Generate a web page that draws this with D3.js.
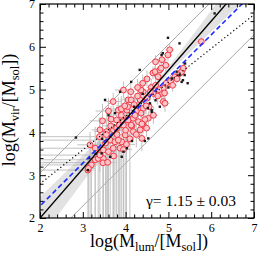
<!DOCTYPE html>
<html><head><meta charset="utf-8">
<script src="https://cdn.jsdelivr.net/npm/d3@7"></script>
<style>body{margin:0;background:#fff}svg{display:block}</style>
</head><body>
<svg id="c" width="258" height="254"></svg>
<script>
// ---- data ----
const xTicks = [2, 3, 4, 5, 6, 7];
const yTicks = [2, 3, 4, 5, 6, 7];
const fitSlope = 1.15, fitIntercept = -0.30;        // black solid line
const oneToOneOffset = 0.28;                          // blue dashed: y = x + offset
const scatterOffsets = [1.05, -0.72];                 // thin gray lines: y = x + offset
const dottedSlope = 0.79, dottedIntercept = 1.22;     // dotted line
const bandX    = [2.0, 2.5, 3.0, 3.5, 4.0, 4.5, 5.0, 5.5, 6.0, 6.5, 7.0];
const bandHalf = [0.49,0.40,0.31,0.22,0.13,0.06,0.08,0.16,0.25,0.34,0.43];
// red circles: [x, y, xErrLow, xErrHigh, yErrLow, yErrHigh]
const redPoints = [
 [3.12,3.12,1.2,0.15,1.5,0.3],[3.20,3.24,1.3,0.15,1.5,0.3],[3.13,3.16,0.15,0.15,1.5,0.3],
 [3.29,3.36,1.4,0.2,1.5,0.4],[3.36,3.39,0.2,0.2,1.5,0.4],[3.48,3.39,0.2,0.2,1.6,0.4],
 [3.40,3.47,1.5,0.2,0.4,0.3],[3.47,3.29,1.5,0.2,1.5,0.3],[3.17,3.71,0.3,0.2,1.8,0.3],
 [3.29,3.63,1.4,0.2,1.7,0.5],[3.48,3.59,0.2,0.2,1.7,0.5],[3.40,4.06,0.2,0.2,2.1,0.3],
 [3.39,3.90,1.4,0.2,0.3,0.3],[3.46,4.27,0.3,0.3,0.4,0.4],[3.56,4.02,0.3,0.2,2.1,0.5],
 [3.64,3.82,1.6,0.2,1.9,0.4],[3.71,3.63,0.2,0.2,1.7,0.3],[3.75,3.78,0.2,0.2,1.8,0.3],
 [3.87,3.63,0.2,0.2,1.7,0.3],[3.91,3.78,0.2,0.2,1.8,0.3],[3.99,3.94,0.2,0.2,2.0,0.3],
 [3.71,4.06,0.2,0.2,2.1,0.4],[3.79,4.10,0.2,0.2,2.1,0.3],[3.85,4.17,0.2,0.2,2.2,0.3],
 [3.95,4.25,0.2,0.2,0.3,0.3],[3.66,4.31,0.3,0.3,0.3,0.3],[4.05,4.33,0.2,0.2,0.2,0.2],
 [3.83,3.82,0.2,0.2,1.9,0.3],[3.95,4.17,0.2,0.2,2.2,0.3],[3.71,4.72,0.2,0.2,0.2,0.2],
 [3.60,4.50,0.3,0.3,0.3,0.3],[3.83,4.52,0.2,0.2,0.3,0.3],[3.79,4.29,0.2,0.2,0.3,0.3],
 [3.95,4.99,0.2,0.2,0.2,0.2],[4.03,4.52,0.2,0.2,0.2,0.2],[4.06,4.29,0.2,0.2,0.3,0.3],
 [4.06,4.76,0.2,0.2,0.2,0.2],[4.18,4.33,0.1,0.1,0.2,0.2],[4.30,4.25,0.1,0.1,0.2,0.2],
 [4.41,4.17,0.1,0.1,0.2,0.2],[4.53,4.33,0.1,0.1,0.15,0.15],[4.18,4.02,0.1,0.1,0.2,0.2],
 [4.34,4.06,0.1,0.1,0.2,0.2],[4.49,4.10,0.1,0.1,0.2,0.2],[4.38,3.86,0.1,0.1,0.3,0.3],
 [4.34,4.76,0.1,0.1,0.2,0.2],[4.41,4.56,0.1,0.1,0.2,0.2],[4.41,4.95,0.1,0.1,0.2,0.2],
 [4.65,4.91,0.1,0.1,0.15,0.15],[4.88,4.72,0.1,0.1,0.15,0.15],[4.13,4.76,0.1,0.1,0.2,0.2],
 [4.36,4.99,0.1,0.1,0.2,0.2],[4.36,4.45,0.1,0.1,0.2,0.2],[4.64,5.39,0.1,0.1,0.15,0.15],
 [4.69,5.42,0.1,0.1,0.15,0.15],[4.76,5.30,0.1,0.1,0.15,0.15],[4.80,5.46,0.1,0.1,0.15,0.15],
 [4.83,5.50,0.1,0.1,0.15,0.15],[4.94,5.57,0.1,0.1,0.15,0.15],[4.99,5.81,0.1,0.1,0.15,0.15],
 [5.03,5.93,0.1,0.1,0.15,0.15],[4.88,5.03,0.1,0.1,0.15,0.15],[4.84,4.91,0.1,0.1,0.15,0.15],
 [4.91,4.92,0.1,0.1,0.2,0.2],[5.15,5.30,0.1,0.1,0.1,0.1],[5.27,5.38,0.1,0.1,0.1,0.1],
 [5.31,5.42,0.1,0.1,0.1,0.1],[4.92,4.68,0.1,0.1,0.2,0.2],[5.77,6.12,0.1,0.1,0.1,0.1],
 [3.60,3.55,0.2,0.2,1.6,0.3],[3.53,3.75,0.2,0.2,1.8,0.3],[3.95,3.60,0.2,0.2,1.7,0.3],
 [4.10,3.85,0.1,0.1,1.9,0.3],[4.25,4.50,0.1,0.1,0.2,0.2],[4.20,4.65,0.1,0.1,0.2,0.2],
 [4.50,4.80,0.1,0.1,0.2,0.2],[4.55,4.60,0.1,0.1,0.2,0.2],[4.60,5.05,0.1,0.1,0.2,0.2],
 [4.70,5.10,0.1,0.1,0.2,0.2],[4.75,4.85,0.1,0.1,0.2,0.2],[4.95,5.15,0.1,0.1,0.15,0.15],
 [5.05,5.20,0.1,0.1,0.15,0.15],[5.10,5.10,0.1,0.1,0.15,0.15],[4.65,4.40,0.1,0.1,0.2,0.2],
 [4.45,4.30,0.1,0.1,0.2,0.2],[4.28,4.85,0.1,0.1,0.2,0.2],[3.90,4.40,0.2,0.2,0.3,0.3],
 [3.65,4.15,0.2,0.2,0.3,0.3],[3.55,3.95,0.2,0.2,0.3,0.3],[3.80,3.95,0.2,0.2,0.3,0.3],
 [3.72,3.45,0.2,0.2,1.5,0.3],[3.58,3.30,1.5,0.2,1.4,0.3],[4.00,4.05,0.2,0.2,0.3,0.3],
 [4.15,4.15,0.1,0.1,0.2,0.2],[4.22,4.40,0.1,0.1,0.2,0.2],[4.48,4.62,0.1,0.1,0.2,0.2],
 [4.78,5.00,0.1,0.1,0.2,0.2],[4.58,4.95,0.1,0.1,0.2,0.2],[4.05,4.60,0.2,0.2,0.2,0.2],
 [3.90,4.55,0.2,0.2,0.3,0.3],[4.85,5.70,0.1,0.1,0.15,0.15],[4.70,5.65,0.1,0.1,0.15,0.15],
 [4.50,5.25,0.1,0.1,0.2,0.2],[4.40,5.15,0.1,0.1,0.2,0.2],[4.28,5.05,0.1,0.1,0.2,0.2],
 [4.12,4.95,0.1,0.1,0.2,0.2],[3.98,4.62,0.2,0.2,0.2,0.2],[5.20,5.25,0.1,0.1,0.1,0.1],
 [5.35,5.50,0.1,0.1,0.1,0.1],[4.02,3.72,0.2,0.2,1.8,0.3],[4.25,3.95,0.1,0.1,0.3,0.3],
 [4.38,4.20,0.1,0.1,0.2,0.2],[4.13,4.17,0.1,0.1,0.2,0.2]
];
// black squares: [x, y]
const blackPoints = [
 [2.84,3.88],[3.12,3.12],[3.44,3.51],[3.64,3.43],[3.91,3.43],[4.03,3.63],[4.53,3.86],
 [4.45,3.80],[3.87,4.95],[3.52,4.76],[4.57,4.68],[4.61,4.52],[4.52,4.57],[4.61,4.48],
 [4.33,5.46],[4.13,5.18],[4.84,5.81],[4.87,5.85],[4.99,6.21],[5.26,6.08],[6.08,6.78],
 [5.38,5.34],[5.26,5.34],[5.34,5.22],[5.39,5.61],[5.19,5.42],[5.08,5.26],[5.31,5.18],
 [4.20,4.60],[3.30,3.50],[3.60,4.40],[3.75,4.45],[4.70,4.75],[4.80,4.60],[3.95,3.55],
 [4.15,3.80],[3.45,3.85],[4.40,4.90],[3.15,3.40],[5.00,5.05],[5.45,5.15]
];
const gammaText = "\u03B3= 1.15 \u00B1 0.03";

// ---- drawing ----
const svg = d3.select("#c");
const L = 40, R = 254, T = 4, B = 218;
const x = d3.scaleLinear().domain([2, 7]).range([L, R]);
const y = d3.scaleLinear().domain([2, 7]).range([B, T]);
const serif = "'Liberation Serif','Times New Roman',serif";

svg.append("defs").append("clipPath").attr("id", "clip")
  .append("rect").attr("x", L).attr("y", T).attr("width", R - L).attr("height", B - T);
const g = svg.append("g").attr("clip-path", "url(#clip)");

// band
const band = d3.area()
  .x((d, i) => x(bandX[i]))
  .y0((d, i) => y(fitSlope * bandX[i] + fitIntercept - bandHalf[i]))
  .y1((d, i) => y(fitSlope * bandX[i] + fitIntercept + bandHalf[i]));
g.append("path").attr("d", band(bandX)).attr("fill", "#e2e2e2");

// thin gray lines
const line = d3.line().x(d => x(d[0])).y(d => y(d[1]));
scatterOffsets.forEach(o => {
  g.append("path").attr("d", line([[1, 1 + o], [8, 8 + o]]))
    .attr("stroke", "#a8a8a8").attr("stroke-width", 1).attr("fill", "none");
});

// error bars
const eb = g.append("g").attr("stroke", "#b4b4b4").attr("stroke-width", 1).attr("opacity", 0.8);
redPoints.forEach(p => {
  eb.append("line").attr("x1", x(p[0] - p[2])).attr("x2", x(p[0] + p[3]))
    .attr("y1", y(p[1])).attr("y2", y(p[1]));
  eb.append("line").attr("x1", x(p[0])).attr("x2", x(p[0]))
    .attr("y1", y(p[1] - p[4])).attr("y2", y(p[1] + p[5]));
});

// red circles
g.append("g").selectAll("circle").data(redPoints).join("circle")
  .attr("cx", d => x(d[0])).attr("cy", d => y(d[1])).attr("r", 2.9)
  .attr("fill", "#ffc4c8").attr("stroke", "#f03a46").attr("stroke-width", 1);

// black squares
g.append("g").selectAll("rect").data(blackPoints).join("rect")
  .attr("x", d => x(d[0]) - 1.2).attr("y", d => y(d[1]) - 1.2)
  .attr("width", 2.4).attr("height", 2.4).attr("fill", "#1a1a1a");

// lines
g.append("path").attr("d", line([[1.5, dottedSlope * 1.5 + dottedIntercept], [7.5, dottedSlope * 7.5 + dottedIntercept]]))
  .attr("stroke", "#000").attr("stroke-width", 1.2).attr("fill", "none")
  .attr("stroke-dasharray", "1.2,2.6");
g.append("path").attr("d", line([[1.5, 1.5 + oneToOneOffset], [7.5, 7.5 + oneToOneOffset]]))
  .attr("stroke", "#1c2cff").attr("stroke-width", 1.6).attr("fill", "none")
  .attr("stroke-dasharray", "5,3");
g.append("path").attr("d", line([[1.5, fitSlope * 1.5 + fitIntercept], [7.5, fitSlope * 7.5 + fitIntercept]]))
  .attr("stroke", "#000").attr("stroke-width", 1.4).attr("fill", "none");

// axes
const minor = d3.range(2, 7.001, 0.2).filter(v => Math.abs(v - Math.round(v)) > 0.01);
function ax(axisFn, scale, ticks, tr, labels) {
  const a = axisFn(scale).tickValues(ticks).tickSizeInner(-6).tickSizeOuter(0).tickPadding(5)
    .tickFormat(labels ? d3.format("d") : "");
  const gg = svg.append("g").attr("transform", tr).call(a);
  const m = axisFn(scale).tickValues(minor).tickSizeInner(-3.5).tickSizeOuter(0).tickFormat("");
  const gm = svg.append("g").attr("transform", tr).call(m);
  [gg, gm].forEach(s => { s.select(".domain").remove(); s.selectAll("line").attr("stroke", "#000"); });
  gg.selectAll("text").attr("font-family", serif).attr("font-size", 12).attr("fill", "#000");
  return gg;
}
ax(d3.axisBottom, x, xTicks, `translate(0,${B})`, true);
ax(d3.axisTop, x, xTicks, `translate(0,${T})`, false);
ax(d3.axisLeft, y, yTicks, `translate(${L},0)`, true);
ax(d3.axisRight, y, yTicks, `translate(${R},0)`, false);

svg.append("rect").attr("x", L).attr("y", T).attr("width", R - L).attr("height", B - T)
  .attr("fill", "none").attr("stroke", "#000").attr("stroke-width", 1.2);

// titles
function title(sel, sub) {
  sel.append("tspan").text("log(M");
  sel.append("tspan").attr("font-size", 12.5).attr("dy", 4).text(sub);
  sel.append("tspan").attr("dy", -4).text("/[M");
  sel.append("tspan").attr("font-size", 12.5).attr("dy", 4).text("sol");
  sel.append("tspan").attr("dy", -4).text("])");
}
const xt = svg.append("text").attr("x", (L + R) / 2 + 2).attr("y", 247)
  .attr("text-anchor", "middle").attr("font-family", serif).attr("font-size", 18);
title(xt, "lum");
const yt = svg.append("text").attr("transform", "translate(15,110) rotate(-90)")
  .attr("text-anchor", "middle").attr("font-family", serif).attr("font-size", 18);
title(yt, "vir");

svg.append("text").attr("x", 236).attr("y", 206).attr("text-anchor", "end")
  .attr("font-family", serif).attr("font-size", 15.5).text(gammaText);
</script>
</body></html>
